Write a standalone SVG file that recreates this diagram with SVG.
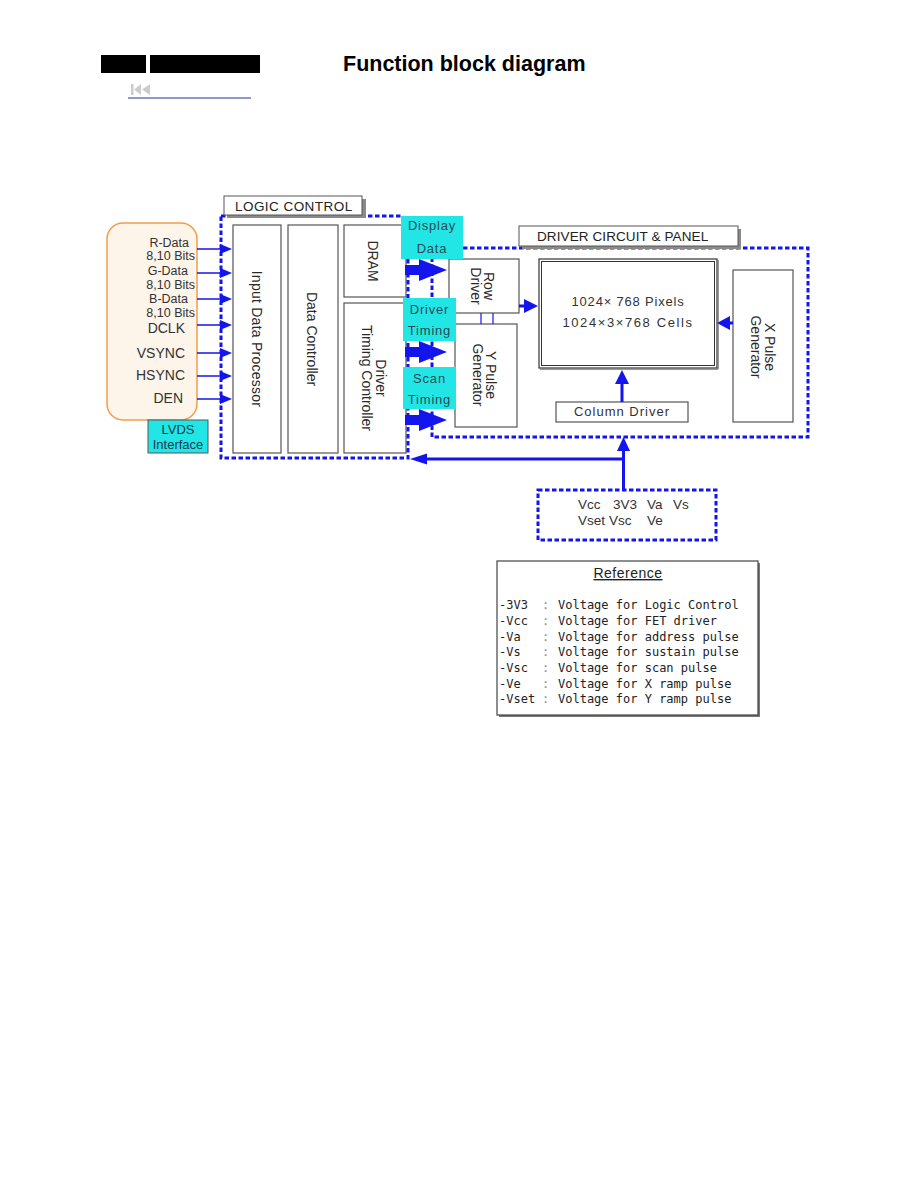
<svg xmlns="http://www.w3.org/2000/svg" width="918" height="1188" viewBox="0 0 918 1188">
<style>
.t{font-family:"Liberation Sans",Arial,sans-serif;fill:#2a2a2a}
.box{fill:#fff;stroke:#555;stroke-width:1.2}
.dot{fill:none;stroke:#1414ee;stroke-width:3;stroke-dasharray:4.5 2.5}
.cy{fill:#22e6e6}
.cyt{font-family:"Liberation Sans",Arial,sans-serif;font-size:13px;fill:#2a4a55;letter-spacing:0.8px;text-anchor:middle}
.blu{fill:#1414ee}
.ln{stroke:#1414ee;fill:none}
.sh{fill:#8a8a8a}
.rot{font-size:14px;text-anchor:middle;dominant-baseline:central}
.lab{font-size:12.5px;text-anchor:end;fill:#333}
.sig{font-size:14px;text-anchor:end;fill:#333}
.mono{font-family:"DejaVu Sans Mono","Liberation Mono",monospace;font-size:12px;fill:#222}
</style>
<rect width="918" height="1188" fill="#fff"/>

<g id="header">
<rect x="101" y="55" width="45" height="18" fill="#000"/>
<rect x="150" y="55" width="110" height="18" fill="#000"/>
<text class="t" x="343" y="71" font-size="21.5" font-weight="bold" style="fill:#000">Function block diagram</text>
<rect x="131" y="84" width="2.5" height="11" fill="#ccc"/>
<polygon points="141,84 134,89.5 141,95" fill="#ccc"/>
<polygon points="150,84 142,89.5 150,95" fill="#ccc"/>
<line x1="128" y1="98" x2="251" y2="98" stroke="#2233aa" stroke-width="1.2"/>
</g>

<g id="lvds-input">
<rect x="107" y="223" width="90" height="197" rx="16" fill="#fdf4ea" stroke="#f39c4a" stroke-width="1.5"/>
<text class="t lab" x="189" y="247">R-Data</text>
<text class="t lab" x="195" y="260">8,10  Bits</text>
<text class="t lab" x="188" y="275">G-Data</text>
<text class="t lab" x="195" y="288.5">8,10  Bits</text>
<text class="t lab" x="188" y="303">B-Data</text>
<text class="t lab" x="195" y="316.5">8,10  Bits</text>
<text class="t sig" x="185" y="333">DCLK</text>
<text class="t sig" x="185" y="358">VSYNC</text>
<text class="t sig" x="185" y="380">HSYNC</text>
<text class="t sig" x="183" y="403">DEN</text>
</g>
<g id="lvds-interface">
<rect x="148" y="420" width="60" height="33" class="cy" stroke="#555" stroke-width="1"/>
<text class="t" x="178" y="434" font-size="13" text-anchor="middle" style="fill:#1a3a4a">LVDS</text>
<text class="t" x="178" y="449" font-size="13" text-anchor="middle" style="fill:#1a3a4a">Interface</text>
</g>

<g id="input-data-processor">
<rect class="box" x="233" y="225" width="48" height="228"/>
<text class="t rot" x="257" y="339" letter-spacing="0.25" transform="rotate(90 257 339)">Input Data Processor</text>
</g>
<g id="data-controller">
<rect class="box" x="288" y="225" width="50" height="228"/>
<text class="t rot" x="312" y="339" transform="rotate(90 312 339)">Data Controller</text>
</g>
<g id="dram">
<rect class="box" x="344" y="225" width="62" height="72"/>
<text class="t rot" x="373" y="261" transform="rotate(90 373 261)">DRAM</text>
</g>
<g id="driver-timing-controller">
<rect class="box" x="344" y="303" width="62" height="150"/>
<g transform="rotate(90 374 378)">
<text class="t rot" x="374" y="371">Driver</text>
<text class="t rot" x="374" y="385">Timing Controller</text>
</g>
</g>
<g id="row-driver">
<rect class="box" x="449" y="259" width="70" height="54"/>
<g transform="rotate(90 482 286)">
<text class="t rot" x="482" y="279.5">Row</text>
<text class="t rot" x="482" y="292.5">Driver</text>
</g>
</g>
<g id="y-pulse-generator">
<rect class="box" x="455" y="324" width="62" height="103"/>
<g transform="rotate(90 484 375)">
<text class="t rot" x="484" y="368.5">Y  Pulse</text>
<text class="t rot" x="484" y="381.5">Generator</text>
</g>
</g>
<g id="panel">
<rect x="539" y="259" width="178" height="109" fill="#fff" stroke="#333" stroke-width="1.2"/>
<rect x="541.5" y="261.5" width="173" height="104" fill="none" stroke="#333" stroke-width="1"/>
<line x1="540" y1="369" x2="718" y2="369" stroke="#777" stroke-width="1.5"/>
<line x1="718" y1="260" x2="718" y2="369" stroke="#777" stroke-width="1.5"/>
<text class="t" x="628" y="306" font-size="13" text-anchor="middle" letter-spacing="0.8" style="fill:#333">1024× 768 Pixels</text>
<text class="t" x="628" y="327" font-size="13" text-anchor="middle" letter-spacing="1.6" style="fill:#333">1024×3×768 Cells</text>
</g>
<g id="x-pulse-generator">
<rect class="box" x="733" y="270" width="60" height="152"/>
<g transform="rotate(90 763 347)">
<text class="t rot" x="763" y="340">X  Pulse</text>
<text class="t rot" x="763" y="354">Generator</text>
</g>
</g>
<g id="column-driver">
<rect class="box" x="556" y="402" width="132" height="20"/>
<text class="t" x="622" y="416" font-size="13" text-anchor="middle" letter-spacing="1" style="fill:#333">Column Driver</text>
</g>

<g id="connectors">
<path class="dot" d="M221,216 H402 M408,259 V458 H221 V216"/>
<path class="dot" d="M463,248 H808 V437 H432 V259"/>
<g class="ln" stroke-width="1.5">
<line x1="197" y1="249" x2="222" y2="249"/>
<line x1="197" y1="273" x2="222" y2="273"/>
<line x1="197" y1="299" x2="222" y2="299"/>
<line x1="197" y1="325" x2="222" y2="325"/>
<line x1="197" y1="353" x2="222" y2="353"/>
<line x1="197" y1="376" x2="222" y2="376"/>
<line x1="197" y1="399" x2="222" y2="399"/>
</g>
<g class="blu">
<polygon points="220,244 232,249 220,254"/>
<polygon points="220,268 232,273 220,278"/>
<polygon points="220,294 232,299 220,304"/>
<polygon points="220,320 232,325 220,330"/>
<polygon points="220,348 232,353 220,358"/>
<polygon points="220,371 232,376 220,381"/>
<polygon points="220,394 232,399 220,404"/>
<path d="M405,265 H419 V259 L447,270 L419,281 V275 H405 Z"/>
<path d="M405,347 H419 V341 L447,352 L419,363 V357 H405 Z"/>
<path d="M405,415 H419 V409 L447,420 L419,431 V425 H405 Z"/>
<polygon points="519,304.5 524,304.5 524,299 538,306 524,313 524,307.5 519,307.5"/>
<polygon points="733,321.5 730,321.5 730,316 717,323 730,330 730,324.5 733,324.5"/>
<polygon points="620.5,402 620.5,384 615,384 622,370 629,384 623.5,384 623.5,402"/>
<polygon points="617,451 623.5,437 630,451"/>
<polygon points="427,453.5 410,459 427,464.5"/>
</g>
<line class="ln" x1="623.5" y1="490" x2="623.5" y2="449" stroke-width="3"/>
<line class="ln" x1="625" y1="459" x2="425" y2="459" stroke-width="3"/>
<line class="ln" x1="481" y1="313" x2="481" y2="324" stroke-width="1.2"/>
<line class="ln" x1="493" y1="313" x2="493" y2="324" stroke-width="1.2"/>
</g>

<g id="logic-control-label">
<rect class="sh" x="227" y="199" width="139" height="19"/>
<rect x="224" y="196" width="138" height="19" fill="#fff" stroke="#555" stroke-width="1"/>
<text class="t" x="235" y="211" font-size="13.5" letter-spacing="0.45" style="fill:#222">LOGIC CONTROL</text>
</g>
<g id="driver-circuit-label">
<rect class="sh" x="522" y="229" width="219" height="20"/>
<rect x="519" y="226" width="219" height="20" fill="#fff" stroke="#555" stroke-width="1"/>
<text class="t" x="537" y="241" font-size="13.5" letter-spacing="0.1" style="fill:#222">DRIVER CIRCUIT &amp; PANEL</text>
</g>

<g id="display-data">
<rect class="cy" x="401" y="216" width="62" height="43"/>
<text class="cyt" x="432" y="230">Display</text>
<text class="cyt" x="432" y="253">Data</text>
</g>
<g id="driver-timing">
<rect class="cy" x="403" y="298" width="53" height="43"/>
<text class="cyt" x="429.5" y="314">Driver</text>
<text class="cyt" x="429.5" y="335">Timing</text>
</g>
<g id="scan-timing">
<rect class="cy" x="403" y="367" width="53" height="42"/>
<text class="cyt" x="429.5" y="383">Scan</text>
<text class="cyt" x="429.5" y="404">Timing</text>
</g>

<g id="power-supply">
<rect class="dot" x="538" y="490" width="178" height="50"/>
<text class="t" y="509" font-size="13.5" style="fill:#333"><tspan x="578">Vcc</tspan><tspan x="613">3V3</tspan><tspan x="647">Va</tspan><tspan x="673">Vs</tspan></text>
<text class="t" y="525" font-size="13.5" style="fill:#333"><tspan x="578">Vset</tspan><tspan x="609">Vsc</tspan><tspan x="647">Ve</tspan></text>
</g>

<g id="reference">
<rect x="499" y="563" width="261" height="154" fill="#777"/>
<rect x="497" y="561" width="261" height="154" fill="#fff" stroke="#444" stroke-width="1.2"/>
<text class="t" x="628" y="578" font-size="14" text-anchor="middle" letter-spacing="0.5" style="fill:#222" text-decoration="underline">Reference</text>
<text class="mono" y="609"><tspan x="499">-3V3</tspan><tspan x="542" fill="#888">:</tspan><tspan x="558">Voltage for Logic Control</tspan></text>
<text class="mono" y="625"><tspan x="499">-Vcc</tspan><tspan x="542" fill="#888">:</tspan><tspan x="558">Voltage for FET driver</tspan></text>
<text class="mono" y="641"><tspan x="499">-Va</tspan><tspan x="542" fill="#888">:</tspan><tspan x="558">Voltage for address pulse</tspan></text>
<text class="mono" y="656"><tspan x="499">-Vs</tspan><tspan x="542" fill="#888">:</tspan><tspan x="558">Voltage for sustain pulse</tspan></text>
<text class="mono" y="672"><tspan x="499">-Vsc</tspan><tspan x="542" fill="#888">:</tspan><tspan x="558">Voltage for scan pulse</tspan></text>
<text class="mono" y="688"><tspan x="499">-Ve</tspan><tspan x="542" fill="#888">:</tspan><tspan x="558">Voltage for X ramp pulse</tspan></text>
<text class="mono" y="703"><tspan x="499">-Vset</tspan><tspan x="542" fill="#888">:</tspan><tspan x="558">Voltage for Y ramp pulse</tspan></text>
</g>
</svg>
